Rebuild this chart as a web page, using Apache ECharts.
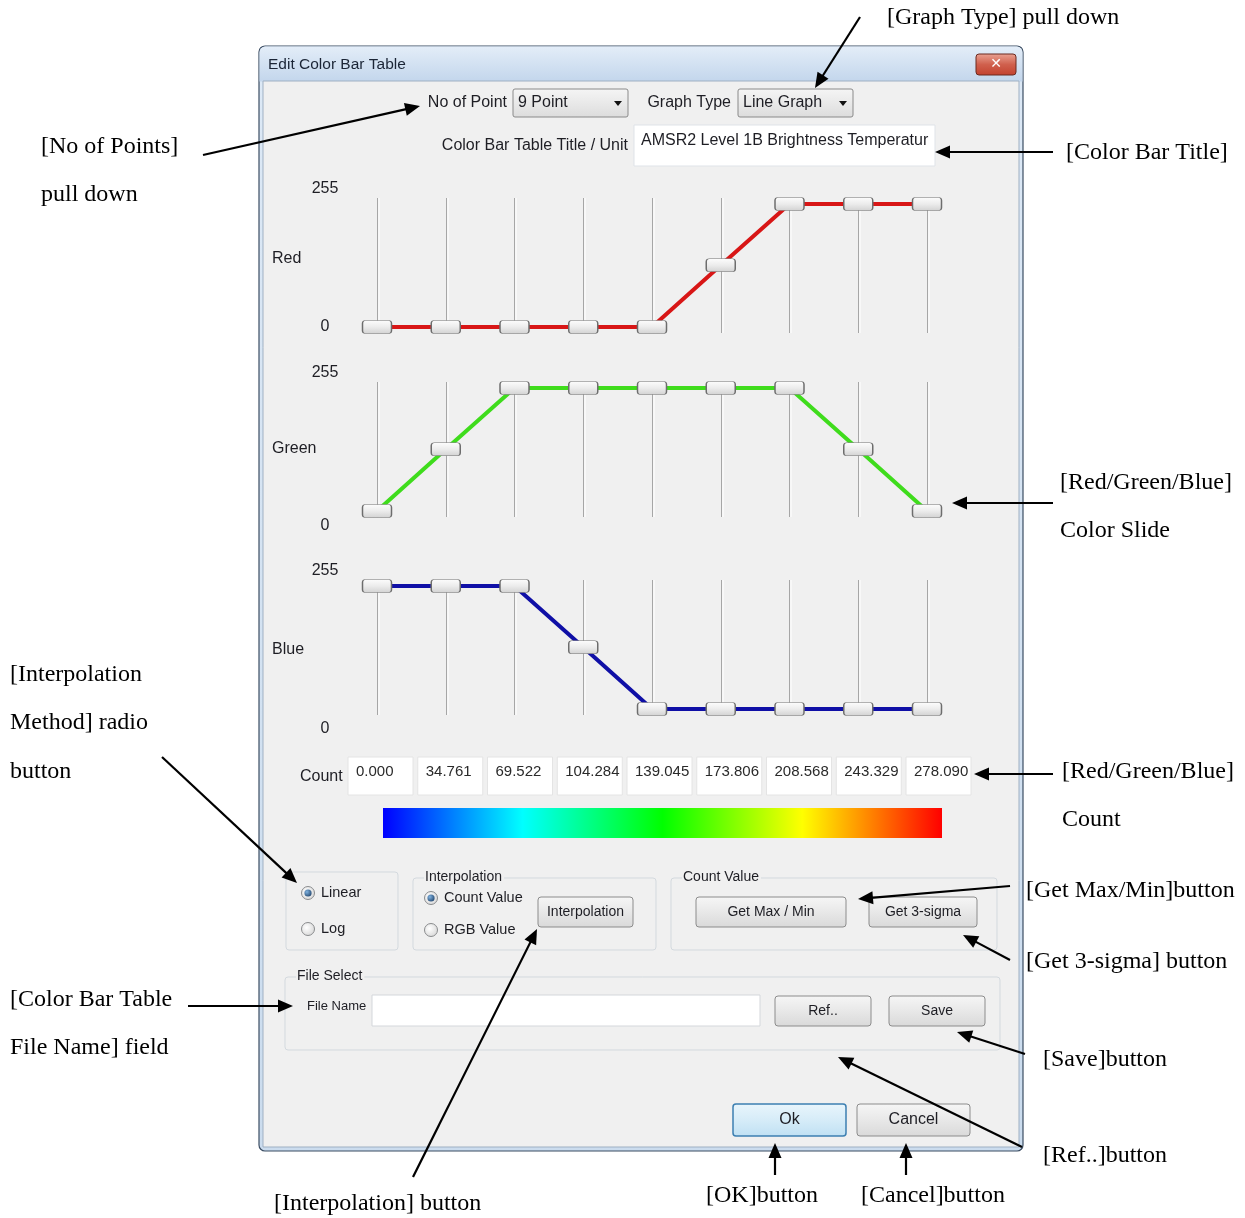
<!DOCTYPE html>
<html><head><meta charset="utf-8">
<script src="https://cdn.jsdelivr.net/npm/echarts@6/dist/echarts.min.js"></script>
<style>html,body{margin:0;padding:0;background:#fff}#c{width:1245px;height:1218px}</style>
</head><body><div id="c"></div><script>
// ---- data ----
const pointIndex = [0, 1, 2, 3, 4, 5, 6, 7, 8];
const redValues = [0, 0, 0, 0, 0, 128, 255, 255, 255];
const greenValues = [0, 128, 255, 255, 255, 255, 255, 128, 0];
const blueValues = [255, 255, 255, 128, 0, 0, 0, 0, 0];
const countValues = ['0.000', '34.761', '69.522', '104.284', '139.045', '173.806', '208.568', '243.329', '278.090'];
const sliderTickLabels = ['255', '0'];
const channelNames = ['Red', 'Green', 'Blue'];

// ---- layout ----
const UI = '16px "Liberation Sans", Arial, sans-serif';
const UIS = '15px "Liberation Sans", Arial, sans-serif';
const UIXS = '14px "Liberation Sans", Arial, sans-serif';
const SERIF = '24px "Liberation Serif", "Times New Roman", serif';
const channelCfg = [
  { values: redValues, color: '#d81616', top: 198, lbl: 259, t255: 189, t0: 327 },
  { values: greenValues, color: '#3fdc1c', top: 382, lbl: 449, t255: 373, t0: 526 },
  { values: blueValues, color: '#0f0fa6', top: 580, lbl: 650, t255: 571, t0: 729 }
];
const yPad = 6 * 255 / 123;

const G = [];
function rect(x, y, w, h, style, z, r) {
  G.push({ type: 'rect', silent: true, z: z == null ? 0 : z, shape: { x, y, width: w, height: h, r: r || 0 }, style });
}
function txt(x, y, t, font, align, fill, z, extra) {
  G.push({ type: 'text', silent: true, z: z == null ? 5 : z, x, y,
    style: Object.assign({ text: t, font: font || UI, fill: fill || '#1e1e24', textAlign: align || 'left', textVerticalAlign: 'middle' }, extra || {}) });
}
function vgrad(a, b, c) {
  const stops = [{ offset: 0, color: a }, { offset: 1, color: b }];
  if (c) { stops.splice(1, 0, { offset: 0.5, color: c }); }
  return { type: 'linear', x: 0, y: 0, x2: 0, y2: 1, colorStops: stops };
}
function button(x, y, w, h, label, ok, font) {
  rect(x, y, w, h, { fill: ok ? vgrad('#e9f5fc', '#bfe0f3', '#d6ecf8') : vgrad('#f6f6f6', '#d9d9d9', '#e8e8e8'),
    stroke: ok ? '#3c7fb1' : '#8c8c8c', lineWidth: ok ? 1.5 : 1 }, 2, 3);
  txt(x + w / 2, y + h / 2, label, font || UIXS, 'center', '#1e1e24', 3);
}
function radio(cx, cy, sel, label) {
  G.push({ type: 'circle', silent: true, z: 2, shape: { cx, cy, r: 6.5 },
    style: { fill: { type: 'radial', x: 0.4, y: 0.4, r: 0.7, colorStops: [{ offset: 0, color: '#ffffff' }, { offset: 1, color: '#d3d3d3' }] }, stroke: '#8a8c8e', lineWidth: 1 } });
  if (sel) {
    G.push({ type: 'circle', silent: true, z: 3, shape: { cx, cy, r: 3.6 },
      style: { fill: { type: 'radial', x: 0.35, y: 0.35, r: 0.8, colorStops: [{ offset: 0, color: '#7fb2e0' }, { offset: 1, color: '#1c3f66' }] } } });
  }
  txt(cx + 13, cy, label, '14.5px "Liberation Sans", Arial, sans-serif', 'left');
}
function groupBox(x, y, w, h, title) {
  rect(x, y, w, h, { fill: 'none', stroke: '#d3d9de', lineWidth: 1 }, 1, 3);
  if (title) {
    txt(x + 11, y - 1, title, UIXS, 'left', '#1e1e24', 3,
      { backgroundColor: '#f0f0f0', padding: [0, 2, 0, 1] });
  }
}
function combo(x, y, w, h, label) {
  rect(x, y, w, h, { fill: vgrad('#f5f5f5', '#dcdcdc', '#e9e9e9'), stroke: '#8a8a8a', lineWidth: 1 }, 2, 2);
  txt(x + 5, y + h / 2, label, UI, 'left', '#1e1e24', 3);
  const ax = x + w - 10, ay = y + h / 2;
  G.push({ type: 'polygon', silent: true, z: 3, shape: { points: [[ax - 4, ay - 2], [ax + 4, ay - 2], [ax, ay + 3]] }, style: { fill: '#111' } });
}
function arrow(x1, y1, x2, y2) {
  const dx = x2 - x1, dy = y2 - y1, L = Math.hypot(dx, dy), ux = dx / L, uy = dy / L;
  const hl = 15, hw = 6.5, bx = x2 - ux * hl, by = y2 - uy * hl;
  G.push({ type: 'line', silent: true, z: 100, shape: { x1, y1, x2: bx + ux * 2, y2: by + uy * 2 }, style: { stroke: '#000', lineWidth: 2.2 } });
  G.push({ type: 'polygon', silent: true, z: 100, shape: { points: [[x2, y2], [bx - uy * hw, by + ux * hw], [bx + uy * hw, by - ux * hw]] }, style: { fill: '#000' } });
}
function note(x, y, t) { txt(x, y + 1, t, SERIF, 'left', '#000', 100); }

// ---- dialog frame ----
rect(259, 46, 764, 1105, { fill: vgrad('#dde9f6', '#cbdcee'), stroke: '#3b4d63', lineWidth: 1.2 }, -10, 6);
rect(259.5, 46.5, 763, 35, { fill: vgrad('#e3edf8', '#c3d6ec'), stroke: 'none' }, -9, [6, 6, 0, 0]);
rect(263, 81, 756, 1066, { fill: '#f0f0f0', stroke: '#9fb0c3', lineWidth: 1 }, -8);
txt(268, 65, 'Edit Color Bar Table', '15.5px "Liberation Sans", Arial, sans-serif', 'left', '#1b2536', 1);
rect(976, 54, 40, 21, { fill: vgrad('#eaa394', '#c2412e', '#d0604d'), stroke: '#6b2a20', lineWidth: 1 }, 1, 3);
txt(996, 64.5, '✕', 'bold 14px "DejaVu Sans", sans-serif', 'center', '#ffffff', 2);

// ---- header controls ----
txt(507, 103, 'No of Point', UI, 'right');
combo(513, 89, 115, 28, '9 Point');
txt(731, 103, 'Graph Type', UI, 'right');
combo(738, 89, 115, 28, 'Line Graph');
txt(628, 146, 'Color Bar Table Title / Unit', UI, 'right');
rect(634, 125, 301, 41, { fill: '#ffffff', stroke: '#dfe3e8', lineWidth: 1 }, 1);
txt(641, 141, 'AMSR2 Level 1B Brightness Temperatur', '16px "Liberation Sans", Arial, sans-serif', 'left', '#1e1e24', 2);

// ---- slider labels ----
channelCfg.forEach((c, i) => {
  txt(272, c.lbl, channelNames[i], UI, 'left');
  txt(325, c.t255, sliderTickLabels[0], UI, 'center');
  txt(325, c.t0, sliderTickLabels[1], UI, 'center');
});

// ---- count boxes ----
txt(300, 777, 'Count', UI, 'left');
countValues.forEach((v, i) => {
  const x = 348 + i * 69.75;
  rect(x, 757, 65, 38, { fill: '#ffffff', stroke: '#e4e4e4', lineWidth: 1 }, 1);
  txt(x + 8, 772, v, UIS, 'left', '#2a2a2a', 2);
});

// ---- color bar from RGB tables ----
rect(383, 808, 559, 30, { fill: { type: 'linear', x: 0, y: 0, x2: 1, y2: 0,
  colorStops: pointIndex.map(i => ({ offset: i / (pointIndex.length - 1), color: 'rgb(' + redValues[i] + ',' + greenValues[i] + ',' + blueValues[i] + ')' })) },
  stroke: 'none' }, 1);

// ---- lower panels ----
groupBox(286, 872, 112, 78, null);
radio(308, 893, true, 'Linear');
radio(308, 929, false, 'Log');
groupBox(413, 878, 243, 72, 'Interpolation');
radio(431, 898, true, 'Count Value');
radio(431, 930, false, 'RGB Value');
button(538, 897, 95, 30, 'Interpolation');
groupBox(671, 878, 326, 72, 'Count Value');
button(696, 897, 150, 30, 'Get Max / Min');
button(869, 897, 108, 30, 'Get 3-sigma');
groupBox(285, 977, 715, 73, 'File Select');
txt(307, 1006, 'File Name', '13px "Liberation Sans", Arial, sans-serif', 'left');
rect(372, 995, 388, 31, { fill: '#ffffff', stroke: '#d4d7db', lineWidth: 1 }, 1);
button(775, 996, 96, 30, 'Ref..');
button(889, 996, 96, 30, 'Save');
button(733, 1104, 113, 32, 'Ok', true, UI);
button(857, 1104, 113, 32, 'Cancel', false, UI);

// ---- annotations ----
note(887, 17, '[Graph Type] pull down');
note(41, 146, '[No of Points]');
note(41, 194, 'pull down');
note(1066, 152, '[Color Bar Title]');
note(1060, 482, '[Red/Green/Blue]');
note(1060, 530, 'Color Slide');
note(10, 674, '[Interpolation');
note(10, 722, 'Method] radio');
note(10, 771, 'button');
note(1062, 771, '[Red/Green/Blue]');
note(1062, 819, 'Count');
note(1026, 890, '[Get Max/Min]button');
note(1026, 961, '[Get 3-sigma] button');
note(10, 999, '[Color Bar Table');
note(10, 1047, 'File Name] field');
note(1043, 1059, '[Save]button');
note(1043, 1155, '[Ref..]button');
note(274, 1203, '[Interpolation] button');
note(706, 1195, '[OK]button');
note(861, 1195, '[Cancel]button');

arrow(860, 17, 815, 88);
arrow(203, 155, 420, 106);
arrow(1053, 152, 935, 152);
arrow(1053, 503, 952, 503);
arrow(162, 757, 297, 883);
arrow(1053, 774, 974, 774);
arrow(1010, 886, 858, 899);
arrow(1010, 960, 963, 935);
arrow(188, 1006, 293, 1006);
arrow(1025, 1054, 957, 1032);
arrow(413, 1177, 537, 929);
arrow(1022, 1147, 838, 1057);
arrow(775, 1175, 775, 1143);
arrow(906, 1175, 906, 1143);

// ---- slider charts ----
const thumbFill = vgrad('#fdfdfd', '#d2d2d2', '#ececec');
const thumbPath = 'path://M3,0 H25 Q28,0 28,3 V10 Q28,13 25,13 H3 Q0,13 0,10 V3 Q0,0 3,0 Z';
const option = {
  animation: false,
  backgroundColor: '#ffffff',
  grid: channelCfg.map(c => ({ left: 377, top: c.top, width: 550, height: 135 })),
  xAxis: channelCfg.map((c, i) => ({
    gridIndex: i, type: 'value', min: 0, max: 8, interval: 1,
    axisLine: { show: false }, axisTick: { show: false }, axisLabel: { show: false },
    splitLine: { show: true, lineStyle: { color: '#a6a6a6', width: 1, shadowColor: '#ffffff', shadowOffsetX: 1.5, shadowBlur: 0 } }
  })),
  yAxis: channelCfg.map((c, i) => ({ gridIndex: i, type: 'value', min: -yPad, max: 255 + yPad, show: false })),
  series: channelCfg.map((c, i) => ({
    type: 'line', name: channelNames[i], xAxisIndex: i, yAxisIndex: i, silent: true,
    data: pointIndex.map(j => [j, c.values[j]]),
    symbol: thumbPath, symbolSize: [29, 13], symbolKeepAspect: false,
    itemStyle: { color: thumbFill, borderColor: '#6d6d6d', borderWidth: 1 },
    lineStyle: { color: c.color, width: 4 },
    emphasis: { disabled: true }, z: 5
  })),
  graphic: { elements: G }
};
const chart = echarts.init(document.getElementById('c'), null, { width: 1245, height: 1218 });
chart.setOption(option);
</script></body></html>
